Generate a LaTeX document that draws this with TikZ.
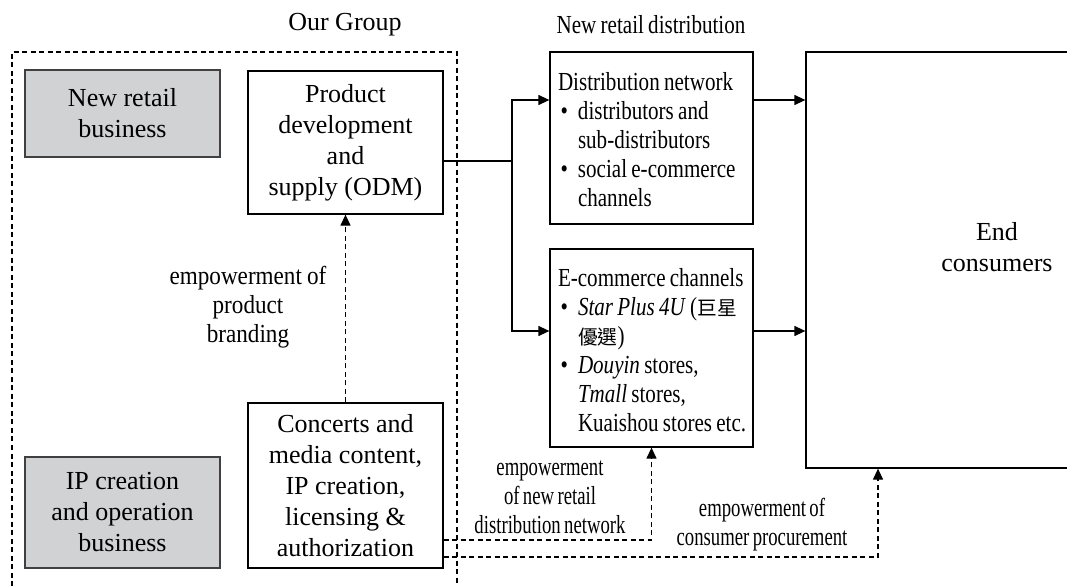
\documentclass[tikz,border=0pt]{standalone}
\usepackage{fontspec}
\setmainfont{Liberation Serif}
\newfontfamily\cond{Liberation Serif}[FakeStretch=0.81,WordSpace=0.81]
\newfontfamily\condlbl{Liberation Serif}[FakeStretch=0.72,WordSpace=0.72]
\newfontfamily\condbr{Liberation Serif}[FakeStretch=0.89,WordSpace=0.89]
\newfontfamily\cjk{Noto Sans CJK TC}[Scale=0.76]
\usetikzlibrary{arrows.meta}
\definecolor{bizgray}{HTML}{D1D2D4}
\newcommand{\blt}{\makebox[8pt][l]{\hspace{1pt}\textbullet}}
\newcommand{\ind}{\hspace*{8pt}}
\newcommand{\itemlist}[1]{\makebox[74.8pt][l]{\raisebox{-2pt}[\height][\depth]{\begin{tabular}{@{}l@{}}#1\end{tabular}}}}

\begin{document}
\begin{tikzpicture}[x=0.4pt,y=-0.4pt,line width=0.5pt,>={Triangle[length=4.4pt,width=4pt]},
  font=\fontsize{10.4}{12.4}\selectfont,
  box/.style={draw,align=center,inner sep=0pt,minimum width=78pt},
  bizbox/.style={box,fill=bizgray,draw=black!75},
  listbox/.style={draw,inner xsep=3.2pt,inner ysep=0pt,minimum width=81.2pt,
    font=\fontsize{10.4}{11.6}\selectfont\cond},
  emp/.style={dashed,dash pattern=on 2pt off 1.4pt},
  note/.style={align=center,font=\fontsize{10.4}{11.6}\selectfont\condlbl}]
\path[use as bounding box,clip] (0,0) rectangle (1067,586);
% our group
\draw[emp] (12,620) |- (457,52) -- (457,620);
\node (grp) at (345,25) {Our Group};
\node[bizbox,minimum height=34.8pt] (newretail) at (122.5,113.5) {New retail\\business};
\node[bizbox,minimum height=44.4pt] (ipbiz) at (122.5,512.5) {IP creation\\and operation\\business};
\node[box,minimum height=57.2pt] (product) at (345.5,142.5) {Product\\development\\and\\supply (ODM)};
\node[box,minimum height=66pt] (concerts) at (345.5,485.5) {Concerts and\\media content,\\IP creation,\\licensing \&\\authorization};
% distribution
\node[font=\fontsize{10.4}{12.4}\selectfont\cond] (dist) at (651,25) {New retail distribution};
\node[listbox,minimum height=68.8pt] (distnet) at (651.5,138) {\itemlist{Distribution network\\
  \blt distributors and\\ \ind sub-distributors\\ \blt social e-commerce\\ \ind channels}};
\node[listbox,minimum height=79.2pt] (ecom) at (651.5,348) {\itemlist{E-commerce channels\\
  \blt\textit{Star Plus 4U} ({\cjk 巨星}\\ \ind{\cjk 優選})\\ \blt\textit{Douyin} stores,\\
  \ind\textit{Tmall} stores,\\ \ind Kuaishou stores etc.}};
\node[box,minimum width=152.8pt,minimum height=166.4pt,text depth=10.4pt] (endcons) at (997,260) {End\\consumers};
% solid flows
\coordinate (split) at (512,161);
\coordinate (upper) at (0,100);
\coordinate (lower) at (0,331);
\draw (product.east |- split) -- (split);
\draw[->] (split) |- (distnet.west |- upper);
\draw[->] (split) |- (ecom.west |- lower);
\draw[->] (distnet.east |- upper) -- (endcons.west |- upper);
\draw[->] (ecom.east |- lower) -- (endcons.west |- lower);
% empowerment
\coordinate (netlvl) at (0,540);
\coordinate (procure) at (878,557);
\draw[emp,->] (concerts) -- (product);
\node[note,font=\fontsize{10.4}{11.6}\selectfont\condbr] (brand) at (248,307) {empowerment of\\product\\branding};
\draw[emp,->] (concerts.east |- netlvl) -| (ecom.south);
\node[note] (netlbl) at (550,497) {empowerment\\of new retail\\distribution network};
\draw[emp,->] (concerts.east |- procure) -| (endcons.south -| procure);
\node[note] (proclbl) at (762,525) {empowerment of\\consumer procurement};
\end{tikzpicture}
\end{document}
